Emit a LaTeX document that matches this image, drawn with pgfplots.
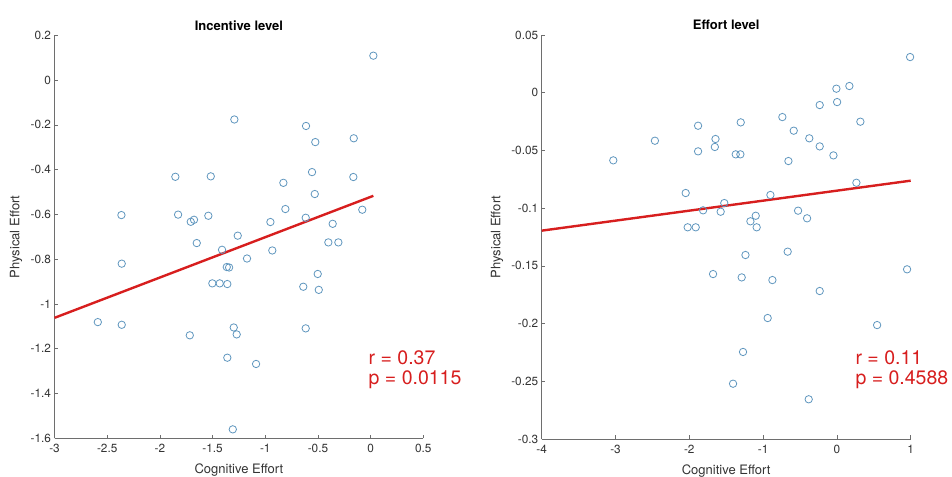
\documentclass[border=0pt]{standalone}
\usepackage{pgfplots}
\pgfplotsset{compat=1.18}
\usepackage{fontspec}
\setmainfont{TeX Gyre Heros}
\definecolor{mblue}{RGB}{95,150,190}
\definecolor{mred}{RGB}{215,30,30}
\definecolor{axgray}{RGB}{110,110,110}
\pgfplotsset{
  mystyle/.style={
    scale only axis,
    axis x line=bottom, axis y line=left,
    axis line style={-, axgray, line width=0.8bp},
    tick style={axgray, line width=0.7bp},
    xtick align=inside, ytick align=inside,
    major tick length=3.5bp,
    enlargelimits=false,
    clip=false,
    /pgf/number format/assume math mode=true,
    tick label style={font=\fontsize{11.8bp}{14bp}\selectfont, text=black!80},
    every axis title/.style={at={(axis description cs:0.5,1.025)}, anchor=center, font=\fontsize{13bp}{15bp}\selectfont\bfseries},
    every axis x label/.style={at={(axis description cs:0.5,-0.079)}, anchor=center, font=\fontsize{13bp}{15bp}\selectfont, text=black!80},
    x tick label style={yshift=-2.5bp},
    scatter style/.style={only marks, mark=o, mark size=3.7bp, mark options={draw=mblue, line width=0.8bp}},
  }
}
\begin{document}
\begin{tikzpicture}
\path[use as bounding box] (0,0) rectangle (952bp,477bp);
% Left panel
\begin{axis}[mystyle,
  at={(54.5bp,38.7bp)}, anchor=south west,
  width=368.8bp, height=403bp,
  xmin=-3, xmax=0.5, ymin=-1.6, ymax=0.2,
  xtick={-3,-2.5,...,0.5},
  ytick={-1.6,-1.4,...,0.2},
  title={Incentive level},
  xlabel={Cognitive Effort},
  ylabel={Physical Effort},
  every axis y label/.style={at={(axis description cs:-0.104,0.5)}, rotate=90, anchor=center, font=\fontsize{13bp}{15bp}\selectfont, text=black!80},
]
\addplot[scatter style] coordinates {
(0.026,0.109) (-1.293,-0.176) (-0.613,-0.205) (-0.160,-0.260) (-0.525,-0.277)
(-0.556,-0.411) (-1.853,-0.432) (-1.517,-0.430) (-0.164,-0.433) (-0.828,-0.459)
(-0.530,-0.509) (-0.809,-0.576) (-0.079,-0.579) (-2.365,-0.603) (-1.827,-0.601)
(-1.540,-0.606) (-0.616,-0.615) (-1.707,-0.633) (-1.676,-0.624) (-0.951,-0.634)
(-0.360,-0.642) (-1.261,-0.695) (-1.650,-0.728) (-0.401,-0.725) (-0.306,-0.725)
(-1.410,-0.758) (-0.933,-0.761) (-1.173,-0.797) (-2.362,-0.820) (-1.365,-0.835)
(-1.343,-0.837) (-0.502,-0.866) (-1.502,-0.908) (-1.432,-0.908) (-1.360,-0.911)
(-0.639,-0.923) (-0.492,-0.937) (-2.589,-1.081) (-2.362,-1.093) (-1.299,-1.105)
(-0.616,-1.109) (-1.271,-1.136) (-1.716,-1.140) (-1.360,-1.240) (-1.087,-1.268)
(-1.308,-1.560)
};
\addplot[mred, line width=2.4bp] coordinates {(-3,-1.062) (0.026,-0.517)};
\node[anchor=west, align=left, text=mred, font=\fontsize{19.5bp}{19.5bp}\selectfont, inner sep=0pt] at (axis cs:-0.02,-1.294) {r = 0.37\\p = 0.0115};
\end{axis}
% Right panel
\begin{axis}[mystyle,
  at={(541.7bp,38bp)}, anchor=south west,
  width=369bp, height=404bp,
  xmin=-4, xmax=1, ymin=-0.3, ymax=0.05,
  xtick={-4,-3,...,1},
  ytick={-0.3,-0.25,...,0.05},
  yticklabel style={/pgf/number format/fixed, /pgf/number format/precision=2},
  title={Effort level},
  xlabel={Cognitive Effort},
  ylabel={Physical Effort},
  every axis y label/.style={at={(axis description cs:-0.121,0.5)}, rotate=90, anchor=center, font=\fontsize{13bp}{15bp}\selectfont, text=black!80},
]
\addplot[scatter style] coordinates {
(-3.03,-0.0586) (-2.466,-0.0416) (-1.881,-0.0286) (-1.881,-0.0508) (-1.645,-0.0401)
(-1.654,-0.0470) (-2.049,-0.0869) (-1.813,-0.1019) (-2.022,-0.1166) (-1.913,-0.1166)
(0.992,0.0309) (-0.007,0.0035) (0.169,0.0058) (0.003,-0.0081) (-0.233,-0.0107)
(-0.739,-0.0211) (0.318,-0.0251) (-1.303,-0.0257) (-0.585,-0.0329) (-0.374,-0.0395)
(-0.233,-0.0465) (-0.047,-0.0543) (-1.371,-0.0534) (-1.308,-0.0534) (-0.657,-0.0592)
(0.264,-0.0780) (-0.901,-0.0886) (-1.526,-0.0956) (-1.575,-0.1031) (-0.526,-0.1022)
(-0.404,-0.1088) (-1.100,-0.1066) (-1.172,-0.1114) (-1.087,-0.1166) (-1.239,-0.1406)
(-0.667,-0.1377) (-1.678,-0.1571) (-1.290,-0.1600) (-0.874,-0.1623) (-0.233,-0.1718)
(0.951,-0.1530) (-0.938,-0.1952) (0.545,-0.2013) (-1.272,-0.2246) (-1.407,-0.2521)
(-0.382,-0.2656)
};
\addplot[mred, line width=2.4bp] coordinates {(-4,-0.1195) (1,-0.0762)};
\node[anchor=west, align=left, text=mred, font=\fontsize{19.5bp}{19.5bp}\selectfont, inner sep=0pt] at (axis cs:0.25,-0.240) {r = 0.11\\p = 0.4588};
\end{axis}
\end{tikzpicture}
\end{document}
